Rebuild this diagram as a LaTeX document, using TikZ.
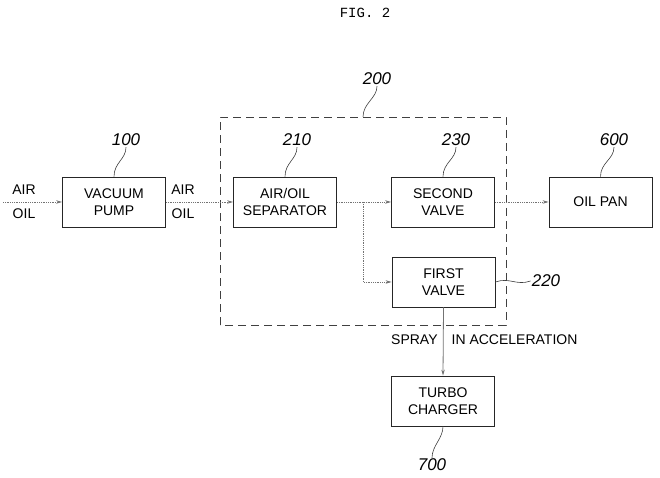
\documentclass[tikz,border=0pt]{standalone}
\usepackage{fontspec}
\setmainfont{Liberation Sans}
\newfontfamily\figfont{Liberation Mono}
\usetikzlibrary{positioning,arrows.meta}

\begin{document}
\begin{tikzpicture}[x=1pt,y=1pt,
    block/.style={draw=black!85,line width=0.8pt,minimum width=103pt,minimum height=50pt,
        align=center,inner sep=0pt,font=\fontsize{14}{17}\selectfont},
    refno/.style={inner sep=1pt,font=\fontsize{17}{17}\selectfont\itshape},
    txt/.style={inner sep=0pt,font=\fontsize{14}{17}\selectfont},
    flow/.style={draw=black!55,densely dotted,line width=0.8pt,-{Stealth[length=6pt,width=3.5pt]}},
    lead/.style={draw=black!75,line width=0.6pt}]
    \useasboundingbox (0,0) rectangle (660,478);
    \node[font=\figfont\fontsize{14}{14}\selectfont] (fig) at (365,465) {FIG. 2};
    % group 200
    \draw[black!75,line width=0.7pt,dash pattern=on 8pt off 5pt] (220,153) rectangle (506,361);
    \coordinate (grp) at (363,361);
    % blocks
    \node[block] (pump) at (114,276) {VACUUM\\PUMP};
    \node[block] (sep) at (285,276) {AIR/OIL\\SEPARATOR};
    \node[block] (valveB) at (443,276) {SECOND\\VALVE};
    \node[block] (pan) at (600.5,276) {OIL PAN};
    \node[block] (valveA) at (443.5,196) {FIRST\\VALVE};
    \node[block] (turbo) at (443,77) {TURBO\\CHARGER};
    % reference numbers
    \node[refno] (n100) at (126,338) {100};
    \node[refno] (n200) at (377,399) {200};
    \node[refno] (n210) at (297,338) {210};
    \node[refno] (n230) at (456,338) {230};
    \node[refno] (n600) at (614,338) {600};
    \node[refno] (n220) at (546,197) {220};
    \node[refno] (n700) at (432,13) {700};
    \draw[lead] (pump.north) .. controls +(0,14) and +(0,-12) .. (n100.south);
    \draw[lead] (sep.north) .. controls +(0,14) and +(0,-12) .. (n210.south);
    \draw[lead] (valveB.north) .. controls +(0,14) and +(0,-12) .. (n230.south);
    \draw[lead] (pan.north) .. controls +(0,14) and +(0,-12) .. (n600.south);
    \draw[lead] (grp) .. controls +(0,14) and +(0,-12) .. (n200.south);
    \draw[lead] (valveA.east) .. controls +(14,5) and +(-14,-5) .. (n220.west);
    \draw[lead] (turbo.south) .. controls +(0,-12) and +(0,12) .. (n700.north);
    % flow labels
    \node[txt] (air1) at (24,288) {AIR};
    \node[txt] (oil1) at (24,264) {OIL};
    \node[txt] (air2) at (183,288) {AIR};
    \node[txt] (oil2) at (183,264) {OIL};
    \node[txt,anchor=west] (spray) at (391,138) {SPRAY\hspace{14pt}IN ACCELERATION};
    % connectors
    \coordinate (inlet) at (3,276);
    \coordinate (branch) at (363,276);
    \draw[flow] (inlet) -- (pump.west);
    \draw[flow] (pump.east) -- (sep.west);
    \draw[flow] (sep.east) -- (valveB.west);
    \draw[flow] (branch) |- (valveA.west);
    \draw[flow] (valveB.east) -- (pan.west);
    \draw[black!55,line width=0.8pt,-{Stealth[length=6pt,width=3.5pt]}] (valveA.south) -- (turbo.north);
\end{tikzpicture}
\end{document}
